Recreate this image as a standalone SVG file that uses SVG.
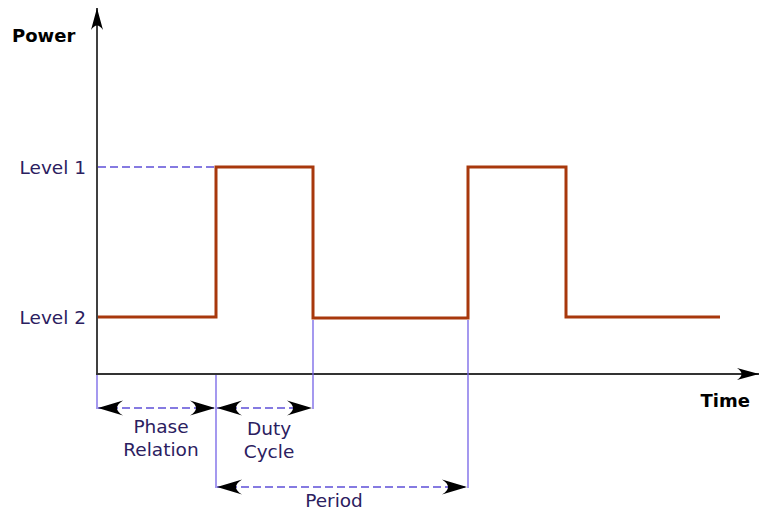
<svg xmlns="http://www.w3.org/2000/svg" width="760" height="511" viewBox="0 0 760 511">
  <style>
    .lbl { font-family: "DejaVu Sans", sans-serif; font-size: 18.5px; fill: #2b2060; }
    .axis-lbl { font-family: "DejaVu Sans", sans-serif; font-size: 18px; font-weight: bold; fill: #000; }
    .guide { stroke: #7462e6; stroke-width: 1.3; fill: none; }
    .dash { stroke: #5e4fd8; stroke-width: 1.4; stroke-dasharray: 8 4; fill: none; }
    .dim { stroke: #5e4fd8; stroke-width: 1.4; stroke-dasharray: 8 4; fill: none; marker-start: url(#head); marker-end: url(#head); }
    .signal { stroke: #a8380c; stroke-width: 3; fill: none; stroke-linejoin: miter; }
  </style>
  <defs>
    <!-- filled arrowhead with concave back, used for the dimension lines -->
    <marker id="head" markerUnits="userSpaceOnUse" viewBox="-28 -10 30 20" refX="0" refY="0" markerWidth="30" markerHeight="20" orient="auto-start-reverse">
      <path d="M0,0 L-25,-7.5 C-17,-2.5 -17,2.5 -25,7.5 Z" fill="#000"/>
    </marker>
    <marker id="axhead" markerUnits="userSpaceOnUse" viewBox="-26 -9 28 18" refX="0" refY="0" markerWidth="28" markerHeight="18" orient="auto">
      <path d="M0,0 L-22,-6 C-16,-2 -16,2 -22,6 Z" fill="#000"/>
    </marker>
  </defs>

  <!-- axes -->
  <g id="axes">
    <line x1="97" y1="374" x2="97" y2="8" stroke="#000" stroke-width="1.5" marker-end="url(#axhead)"/>
    <line x1="96" y1="374" x2="759" y2="374" stroke="#333" stroke-width="2" marker-end="url(#axhead)"/>
    <text class="axis-lbl" x="12" y="42">Power</text>
    <text class="axis-lbl" x="750" y="407" text-anchor="end">Time</text>
  </g>

  <!-- level labels -->
  <g id="levels">
    <text class="lbl" x="86" y="174" text-anchor="end">Level 1</text>
    <text class="lbl" x="86" y="324" text-anchor="end">Level 2</text>
    <line class="dash" x1="98" y1="167" x2="215" y2="167"/>
  </g>

  <!-- square wave -->
  <g id="waveform">
    <path class="signal" d="M98,317 H216 V167 H313 V318 H468 V167 H566 V317 H720"/>
  </g>

  <!-- guides and dimensions -->
  <g id="connectors">
    <line class="guide" x1="97" y1="375" x2="97" y2="409"/>
    <line class="guide" x1="216" y1="375" x2="216" y2="488"/>
    <line class="guide" x1="313" y1="320" x2="313" y2="409"/>
    <line class="guide" x1="468" y1="320" x2="468" y2="488"/>
    <line class="dim" x1="98" y1="408" x2="215" y2="408"/>
    <line class="dim" x1="217" y1="408" x2="312" y2="408"/>
    <line class="dim" x1="217" y1="487" x2="467" y2="487"/>
  </g>

  <g id="phase-relation">
    <text class="lbl" x="161" y="433" text-anchor="middle">Phase</text>
    <text class="lbl" x="161" y="456" text-anchor="middle">Relation</text>
  </g>
  <g id="duty-cycle">
    <text class="lbl" x="269" y="435" text-anchor="middle">Duty</text>
    <text class="lbl" x="269" y="458" text-anchor="middle">Cycle</text>
  </g>
  <g id="period">
    <text class="lbl" x="334" y="507" text-anchor="middle">Period</text>
  </g>
</svg>
